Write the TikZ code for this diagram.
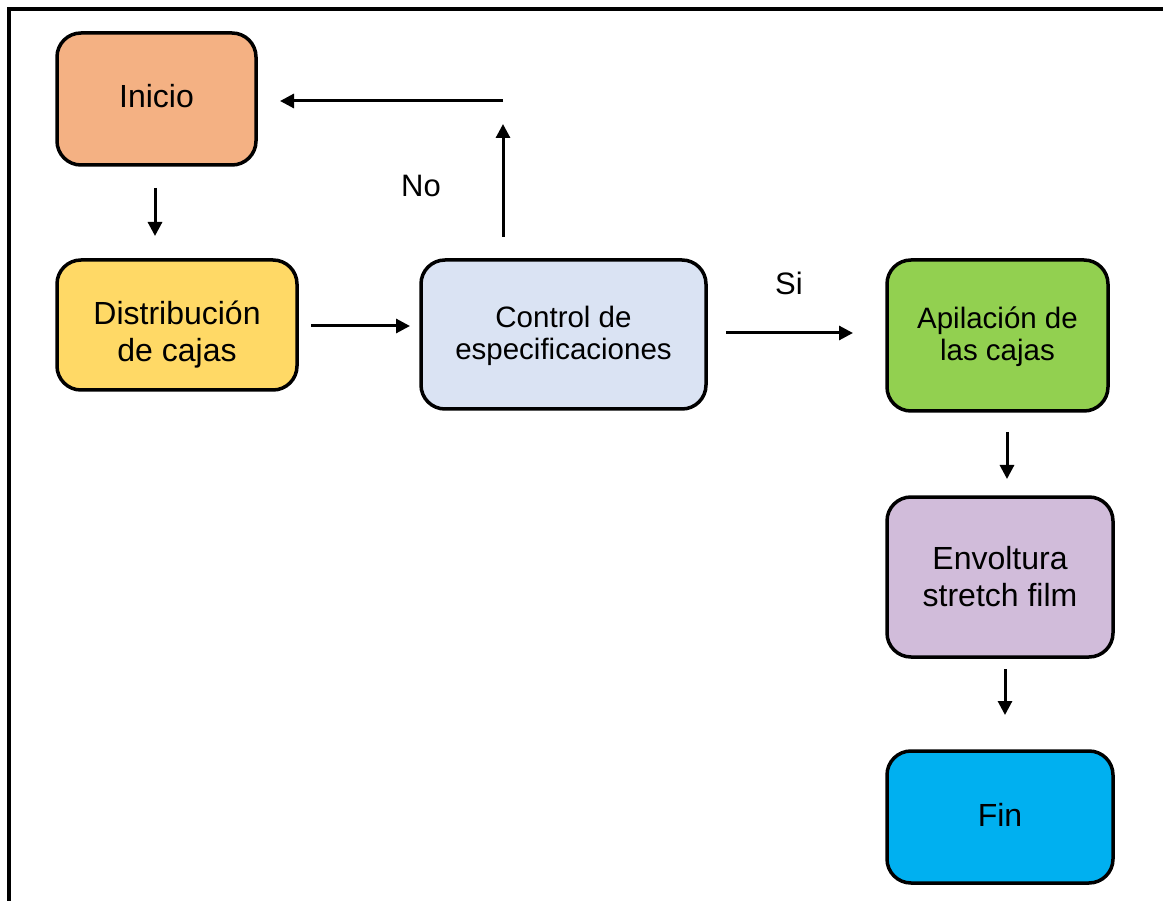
\documentclass[tikz,border=0pt]{standalone}
\usepackage{fontspec}
\setmainfont{Liberation Sans}
\usetikzlibrary{arrows.meta}
\definecolor{cini}{HTML}{F4B183}
\definecolor{cdist}{HTML}{FFD966}
\definecolor{cctrl}{HTML}{DAE3F3}
\definecolor{capil}{HTML}{92D050}
\definecolor{cenv}{HTML}{D1BCDA}
\definecolor{cfin}{HTML}{00B0F0}
\begin{document}
\begin{tikzpicture}[x=1pt,y=-1pt,
  box/.style={draw=black,line width=3.5pt,rounded corners=24pt,inner sep=0pt,align=center,font=\fontsize{32}{38}\selectfont},
  smallbox/.style={box,font=\fontsize{29.5}{33}\selectfont},
  txt/.style={align=center,inner sep=0pt,font=\fontsize{32}{37}\selectfont},
  smalltxt/.style={align=center,inner sep=0pt,font=\fontsize{29.5}{32}\selectfont},
  conn/.style={line width=3pt,-{Triangle[length=14pt,width=14pt]}},
  lbl/.style={font=\fontsize{31}{36}\selectfont}]
\useasboundingbox (0,0) rectangle (1163,901);
\fill[white] (0,0) rectangle (1163,901);
\draw[line width=3.5pt] (9,910) -- (9,9) -- (1175,9);
% boxes
\node[box,fill=cini,minimum width=199pt,minimum height=132pt,
  label={[txt,yshift=3pt]center:Inicio}] (ini) at (156.5,99) {};
\node[box,fill=cdist,minimum width=240pt,minimum height=130pt,
  label={[txt,yshift=-10pt]center:Distribución\\de cajas}] (dist) at (177,325) {};
\node[box,fill=cctrl,minimum width=285pt,minimum height=149pt,
  label={[smalltxt,yshift=-1pt]center:Control de\\especificaciones}] (ctrl) at (563.5,334.5) {};
\node[box,fill=capil,minimum width=221pt,minimum height=151pt,
  label={[smalltxt,yshift=-1pt]center:Apilación de\\las cajas}] (apil) at (997.5,335.5) {};
\node[box,fill=cenv,minimum width=226pt,minimum height=160pt,
  label={[txt]center:Envoltura\\stretch film}] (env) at (1000,577) {};
\node[box,fill=cfin,minimum width=226pt,minimum height=132pt,
  label={[txt,yshift=2pt]center:Fin}] (fin) at (1000,817) {};
% arrow end points
\coordinate (a1s) at (155,188); \coordinate (a1e) at (155,236);
\coordinate (a2s) at (311,326); \coordinate (a2e) at (410,326);
\coordinate (a3s) at (503,237); \coordinate (a3e) at (503,124);
\coordinate (a4s) at (503,101); \coordinate (a4e) at (280,101);
\coordinate (a5s) at (726,333); \coordinate (a5e) at (853,333);
\coordinate (a6s) at (1007,432); \coordinate (a6e) at (1007,479);
\coordinate (a7s) at (1005,669); \coordinate (a7e) at (1005,715);
\draw[conn] (a1s) -- (a1e);
\draw[conn] (a2s) -- (a2e);
\draw[conn] (a3s) -- (a3e);
\draw[conn] (a4s) -- (a4e);
\draw[conn] (a5s) -- (a5e);
\draw[conn] (a6s) -- (a6e);
\draw[conn] (a7s) -- (a7e);
\node[lbl] (no) at (421,186) {No};
\node[lbl] (si) at (789,283) {Si};
\end{tikzpicture}
\end{document}
